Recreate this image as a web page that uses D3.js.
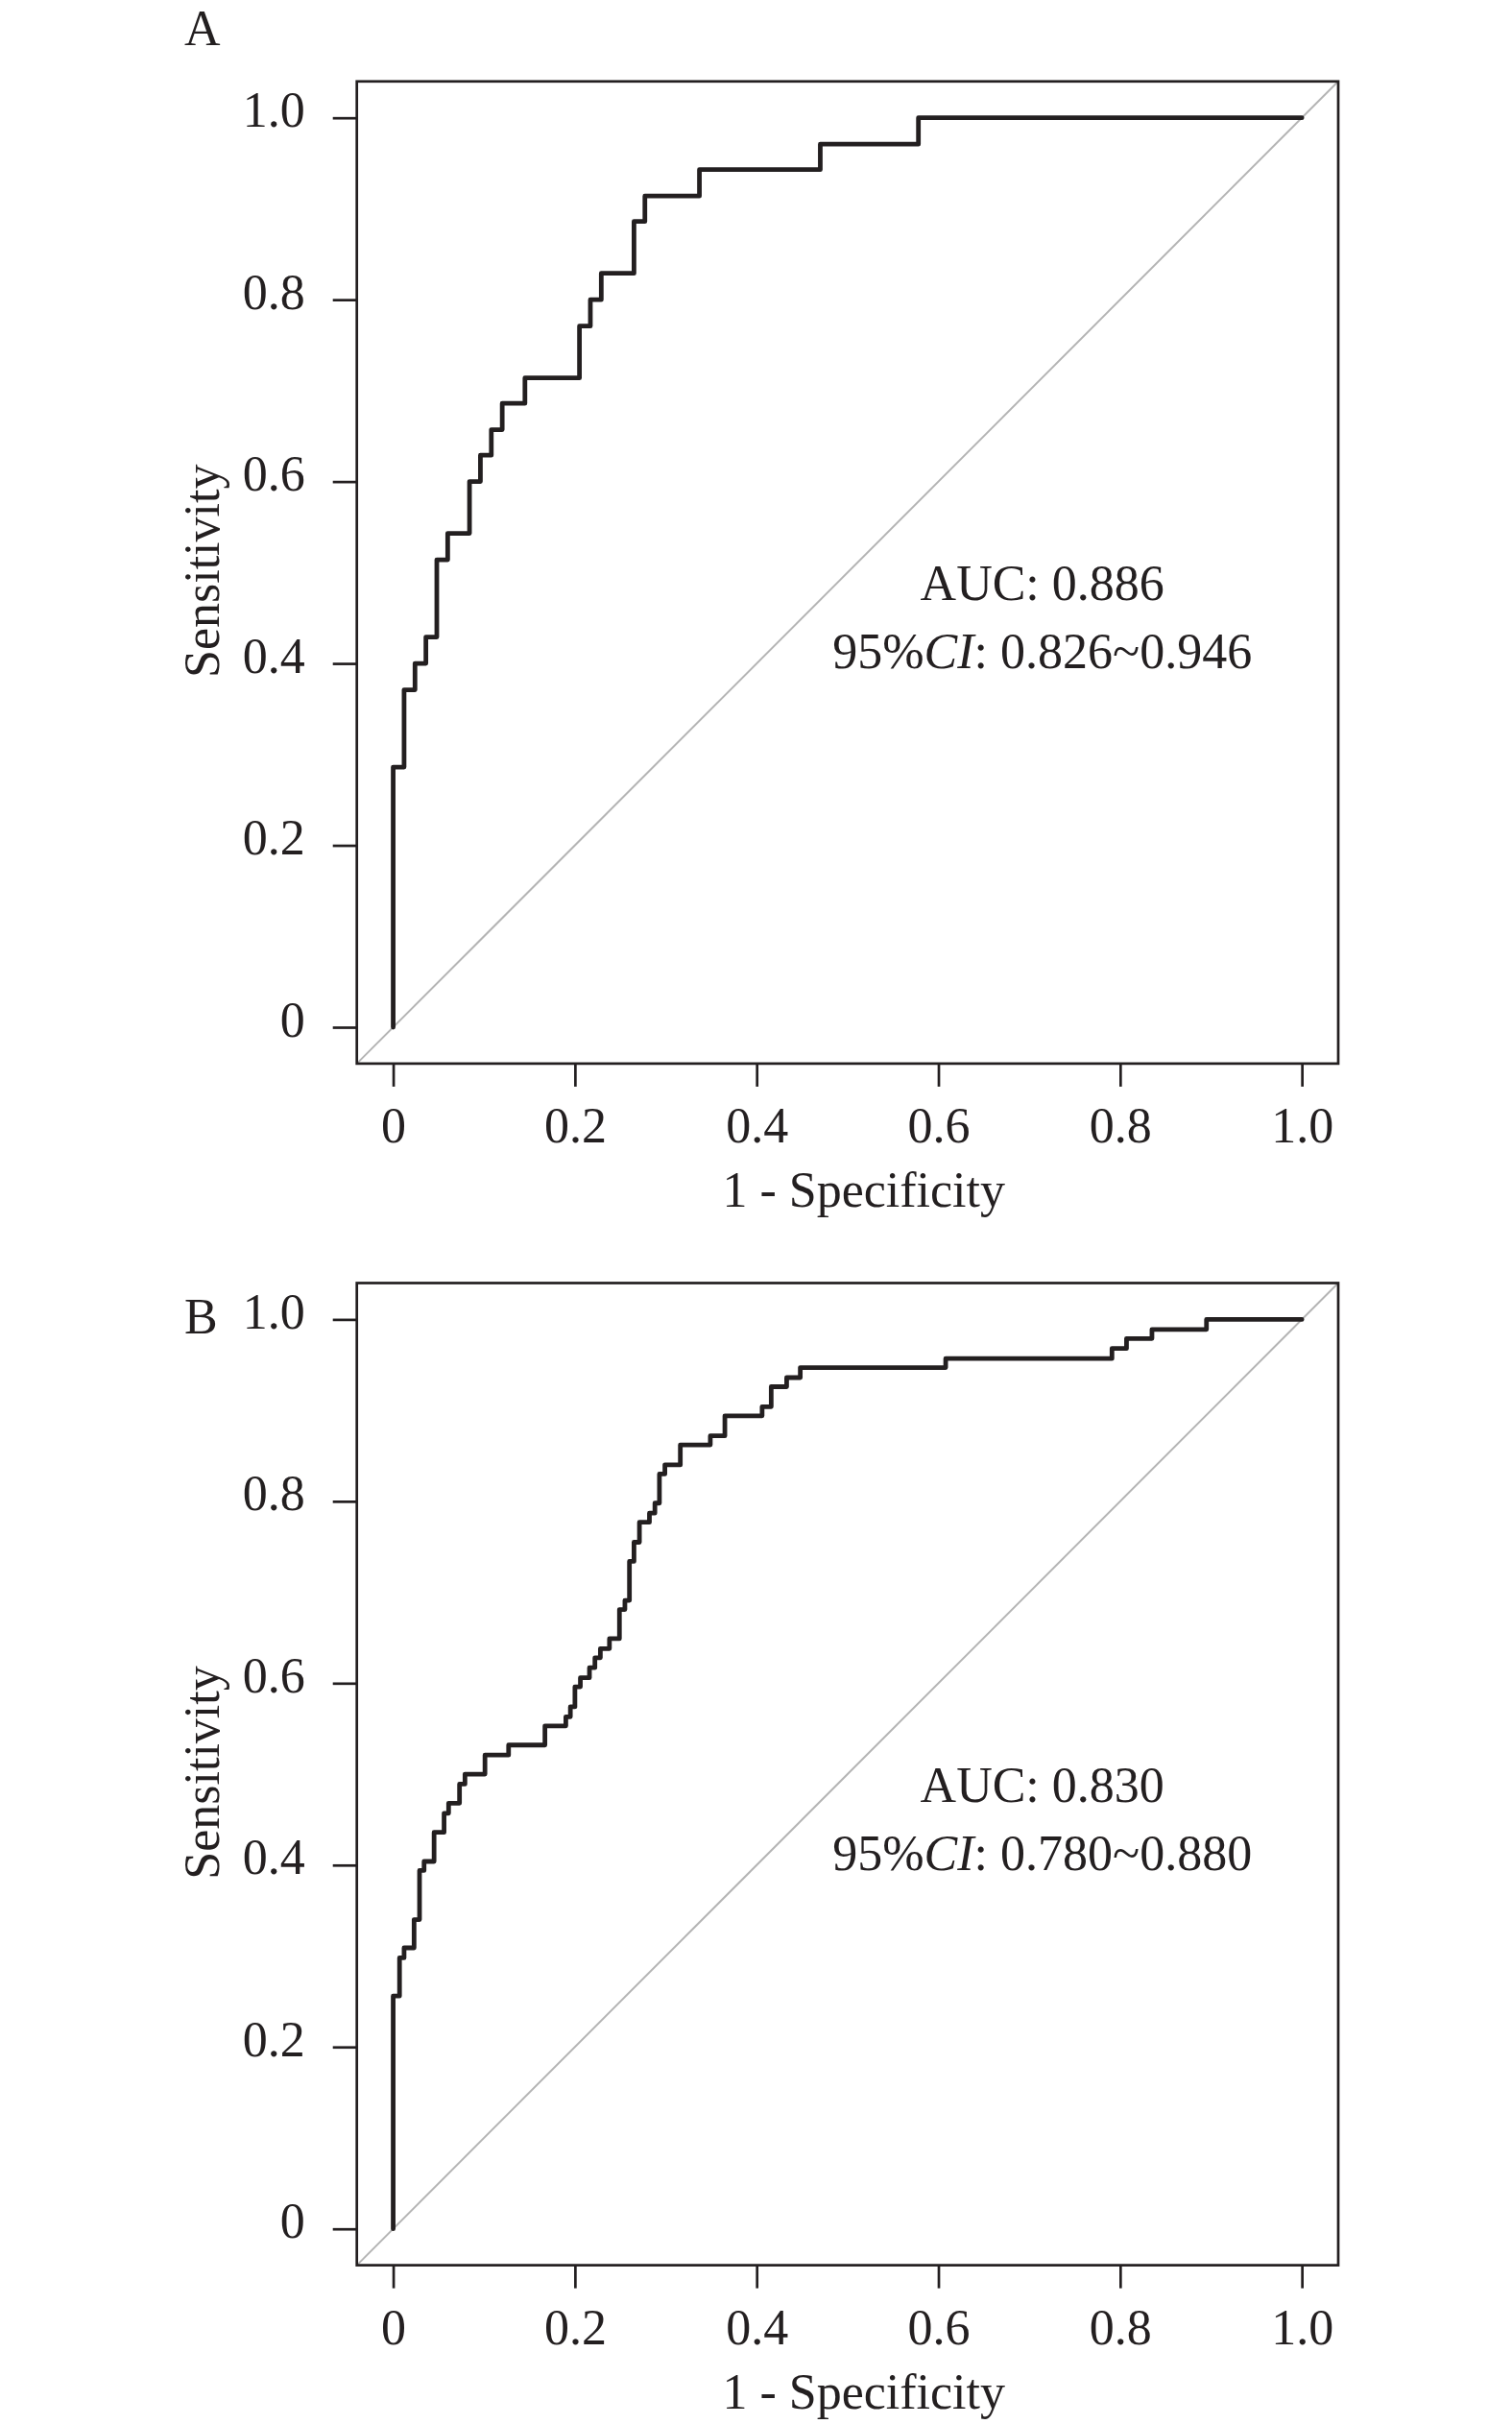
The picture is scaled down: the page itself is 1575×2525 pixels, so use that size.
<!DOCTYPE html>
<html>
<head>
<meta charset="utf-8">
<script src="https://cdn.jsdelivr.net/npm/d3@7"></script>
<style>
  body { margin: 0; background: #fff; }
  text { font-family: "Liberation Serif", "Times New Roman", serif; fill: #231f20; }
</style>
</head>
<body>
<div id="chart"></div>
<script>
// tick values and labels shared by both panels
const ticks = [0, 0.2, 0.4, 0.6, 0.8, 1.0];
const tickLabels = ["0", "0.2", "0.4", "0.6", "0.8", "1.0"];

// panel A: ROC points (1 - specificity, sensitivity)
const fprA = [0, 0, 0.012, 0.024, 0.036, 0.048, 0.060, 0.084, 0.096, 0.108, 0.120, 0.145,
  0.205, 0.217, 0.229, 0.265, 0.277, 0.337, 0.470, 0.578, 1.0];
const sensA = [0, 0.286, 0.371, 0.400, 0.429, 0.514, 0.543, 0.600, 0.629, 0.657, 0.686, 0.714,
  0.771, 0.800, 0.829, 0.886, 0.914, 0.943, 0.971, 1.0, 1.0];

// panel B
const fprB = [0, 0, 0.007, 0.012, 0.023, 0.029, 0.034, 0.045, 0.056, 0.061, 0.073, 0.079,
  0.101, 0.127, 0.167, 0.190, 0.195, 0.200, 0.206, 0.216, 0.222, 0.228, 0.238, 0.249,
  0.255, 0.260, 0.265, 0.271, 0.282, 0.288, 0.293, 0.299, 0.316, 0.349, 0.365, 0.406,
  0.416, 0.433, 0.448, 0.608, 0.791, 0.807, 0.835, 0.895, 1.0];
const sensB = [0, 0.256, 0.298, 0.309, 0.340, 0.394, 0.404, 0.436, 0.457, 0.468, 0.489, 0.500,
  0.521, 0.532, 0.553, 0.563, 0.574, 0.596, 0.606, 0.617, 0.628, 0.638, 0.649, 0.681,
  0.691, 0.734, 0.755, 0.777, 0.787, 0.798, 0.830, 0.840, 0.862, 0.872, 0.894, 0.904,
  0.926, 0.936, 0.947, 0.957, 0.968, 0.979, 0.989, 1.0, 1.0];

const panelLabels = ["A", "B"];
const aucValues = ["0.886", "0.830"];
const ciValues = ["0.826~0.946", "0.780~0.880"];

const W = 1575, H = 2525;
const boxW = 1022.3, boxH = 1023.1;
const ink = "#231f20";
const fontSize = 52;

const svg = d3.select("#chart").append("svg")
    .attr("width", W)
    .attr("height", H);

let x = d3.scaleLinear().domain([-0.04, 1.04]).range([0, boxW]);
let y = d3.scaleLinear().domain([-0.04, 1.04]).range([boxH, 0]);

let line = d3.line()
    .x(d => x(d[0]))
    .y(d => y(d[1]))
    .curve(d3.curveStepAfter);

function drawPanel(i, fpr, sens, left, top, labelY) {
    let g = svg.append("g")
        .attr("transform", "translate(" + left + "," + top + ")");

    // chance line, corner to corner
    g.append("line")
        .attr("x1", x(-0.04)).attr("y1", y(-0.04))
        .attr("x2", x(1.04)).attr("y2", y(1.04))
        .attr("stroke", "#b4b4b4")
        .attr("stroke-width", 2);

    let xAxis = g.append("g")
        .attr("transform", "translate(0," + boxH + ")")
        .call(d3.axisBottom(x).tickValues(ticks)
            .tickFormat((d, k) => tickLabels[k])
            .tickSizeInner(24).tickSizeOuter(0));
    xAxis.selectAll("text")
        .attr("dy", null)
        .attr("y", 82);

    let yAxis = g.append("g")
        .call(d3.axisLeft(y).tickValues(ticks)
            .tickFormat((d, k) => tickLabels[k])
            .tickSizeInner(25).tickSizeOuter(0));
    yAxis.selectAll("text")
        .attr("dy", null)
        .attr("x", -54)
        .attr("y", 9);

    [xAxis, yAxis].forEach(a => {
        a.attr("font-size", fontSize).attr("font-family", null);
        a.select(".domain").remove();
        a.selectAll("line").attr("stroke", ink).attr("stroke-width", 2.7);
        a.selectAll("text").attr("fill", ink);
    });

    g.append("rect")
        .attr("width", boxW)
        .attr("height", boxH)
        .attr("fill", "none")
        .attr("stroke", ink)
        .attr("stroke-width", 2.7);

    g.append("path")
        .datum(fpr.map((f, k) => [f, sens[k]]))
        .attr("d", line)
        .attr("fill", "none")
        .attr("stroke", ink)
        .attr("stroke-width", 4.8)
        .attr("stroke-linejoin", "round")
        .attr("stroke-linecap", "round");

    g.append("text")
        .attr("x", 528)
        .attr("y", boxH + 149)
        .attr("text-anchor", "middle")
        .attr("font-size", fontSize)
        .text("1 - Specificity");

    g.append("text")
        .attr("transform", "translate(-144," + 510 + ") rotate(-90)")
        .attr("text-anchor", "middle")
        .attr("font-size", fontSize)
        .text("Sensitivity");

    g.append("text")
        .attr("x", 714)
        .attr("y", 540)
        .attr("text-anchor", "middle")
        .attr("font-size", fontSize)
        .text("AUC: " + aucValues[i]);

    let ci = g.append("text")
        .attr("x", 714)
        .attr("y", 611)
        .attr("text-anchor", "middle")
        .attr("font-size", fontSize);
    ci.append("tspan").text("95%");
    ci.append("tspan").attr("font-style", "italic").text("CI");
    ci.append("tspan").text(": " + ciValues[i]);

    svg.append("text")
        .attr("x", 192)
        .attr("y", labelY)
        .attr("font-size", fontSize)
        .text(panelLabels[i]);
}

drawPanel(0, fprA, sensA, 371.7, 84.8, 47);
drawPanel(1, fprB, sensB, 371.7, 1336.5, 1389);
</script>
</body>
</html>
